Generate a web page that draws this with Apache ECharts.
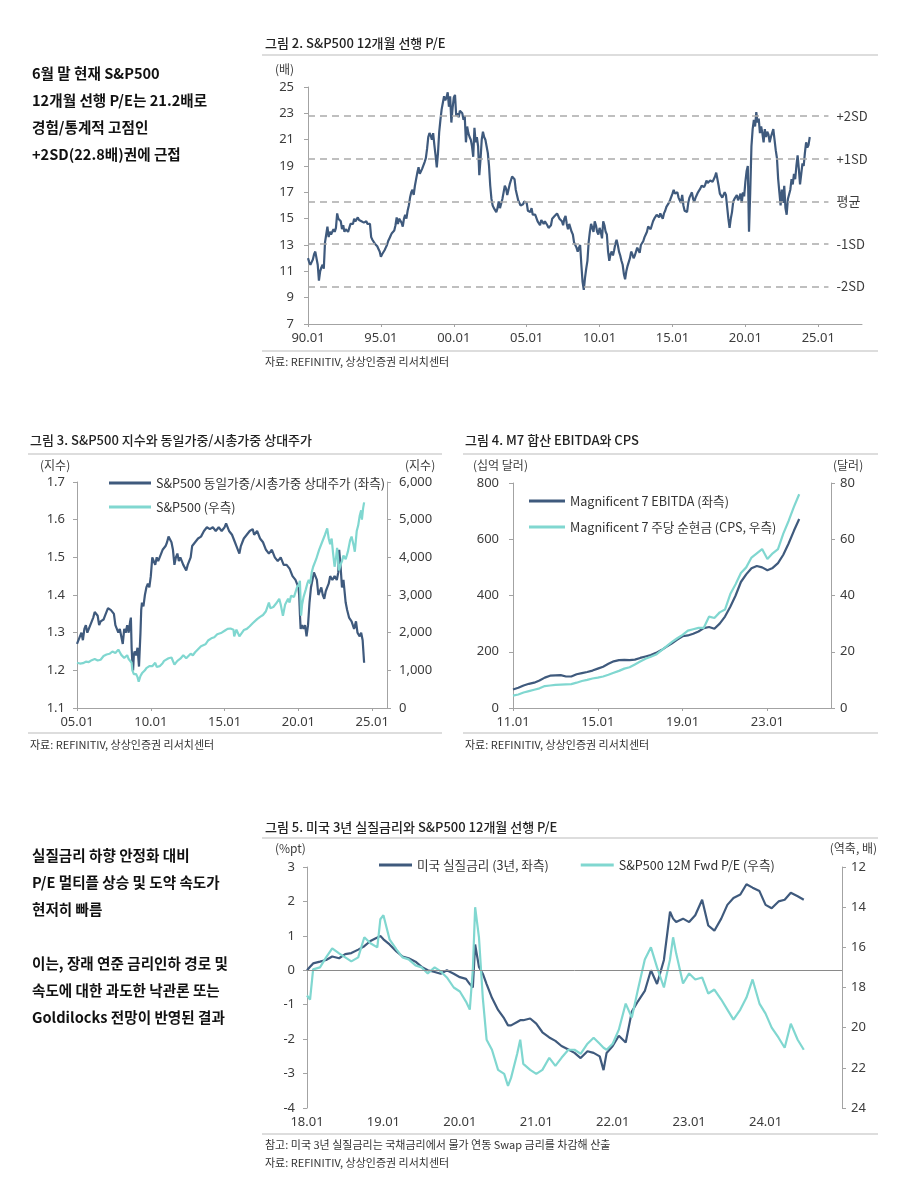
<!DOCTYPE html>
<html><head><meta charset="utf-8">
<script src="https://cdn.jsdelivr.net/npm/echarts@6/dist/echarts.min.js"></script>
<style>html,body{margin:0;padding:0;background:#fff}#c{width:900px;height:1199px}</style>
</head><body><div id="c"></div>
<script>
// ---------- Figure 2: S&P500 12M forward P/E, monthly from Jan 1990 ----------
const peStartYear = 1990;
const peMonthly = [
 12.0,11.7,11.5,11.7,11.9,12.3,12.5,12.4,11.5,10.3,11.0,11.3,
 11.5,11.2,13.2,13.8,14.4,13.6,14.0,13.8,14.0,14.2,14.0,14.3,
 15.4,15.0,14.9,14.8,14.2,14.5,14.0,14.2,14.3,14.0,14.3,14.6,
 14.5,14.6,15.0,14.8,14.7,15.1,14.9,14.9,14.8,14.7,14.7,14.8,
 14.8,14.6,14.7,14.6,13.6,13.4,13.3,13.1,13.0,12.9,12.7,12.5,
 12.1,12.3,12.4,12.6,12.8,13.0,13.3,13.5,13.7,13.9,14.0,14.1,
 14.5,15.1,14.6,15.0,15.0,14.7,14.4,15.0,15.3,15.0,15.6,16.0,
 16.6,17.0,17.2,16.8,17.5,18.0,18.5,18.9,18.4,18.6,18.8,18.9,
 19.3,19.6,20.3,21.2,21.5,21.3,21.0,21.5,20.6,19.8,18.9,20.0,
 21.6,22.5,23.3,23.8,24.3,24.0,24.2,24.6,23.5,24.3,22.3,23.4,
 24.2,24.4,22.8,23.0,22.7,23.2,23.3,23.0,22.5,22.8,20.8,22.0,
 21.5,21.2,21.0,20.5,19.7,21.9,20.8,21.2,20.5,18.3,19.5,21.0,
 21.6,21.2,21.0,20.5,20.0,19.0,17.5,16.5,16.0,15.8,15.7,15.5,
 15.8,16.3,15.8,15.9,16.5,17.0,17.5,17.3,16.8,17.2,17.6,17.7,
 18.2,18.1,18.0,17.2,16.8,16.4,16.2,16.0,15.9,16.1,16.3,16.4,
 16.2,15.6,15.6,15.5,15.8,15.3,15.2,15.3,15.2,14.8,14.7,14.5,
 14.9,14.8,14.6,14.8,14.9,14.5,14.3,14.4,14.5,15.0,15.1,15.2,
 15.3,15.4,15.2,15.0,14.9,14.8,14.5,15.0,15.2,14.6,14.2,14.6,
 14.5,14.0,13.8,13.2,13.0,12.8,12.5,12.8,13.0,11.5,10.2,9.6,
 10.5,11.2,11.8,13.2,14.0,14.6,14.3,14.0,14.8,14.5,14.0,13.8,
 14.3,14.0,13.5,14.8,14.5,14.0,13.8,12.5,11.8,12.3,12.5,12.2,
 12.6,13.1,13.4,13.0,12.5,12.2,11.8,11.5,10.8,10.4,11.0,11.4,
 11.7,12.0,12.5,12.3,12.0,12.2,12.3,12.8,12.6,12.4,13.0,13.1,
 13.3,13.6,13.8,14.0,14.4,14.3,14.2,14.5,14.8,15.0,15.1,15.3,
 15.2,15.1,15.4,15.3,15.0,15.4,15.6,15.9,16.0,16.2,16.4,16.5,
 16.9,17.2,16.9,17.0,17.0,16.6,16.4,16.2,16.8,16.0,15.6,15.5,
 15.5,16.2,16.6,16.8,17.0,16.5,16.3,16.6,16.8,17.0,16.9,17.3,
 17.5,17.6,17.4,17.6,17.9,17.7,17.6,17.9,18.0,17.8,18.0,18.2,
 18.5,18.6,17.5,16.9,16.8,16.6,16.8,17.0,16.8,15.9,15.0,14.3,
 15.0,15.5,16.3,16.5,16.6,16.8,16.4,16.6,16.9,16.2,17.0,16.7,
 17.8,18.6,19.0,14.0,17.0,20.5,21.8,22.5,22.0,23.1,22.3,22.6,
 21.5,22.0,21.5,20.8,21.8,21.2,21.6,21.4,20.8,21.2,21.5,21.8,
 21.0,20.2,19.6,18.0,17.0,16.0,17.2,16.2,17.5,15.8,15.3,16.5,
 16.5,17.2,18.0,17.6,18.4,18.0,19.0,19.8,18.8,17.6,18.4,19.2,
 19.0,20.0,20.8,20.4,20.6,21.2
];
const sdLevels = [22.8, 19.55, 16.3, 13.1, 9.85];
const sdLabels = ['+2SD', '+1SD', '평균', '-1SD', '-2SD'];
const fig2Ticks = [1990, 1995, 2000, 2005, 2010, 2015, 2020, 2025];

// ---------- Figure 3: equal/cap weight relative & S&P500 ----------
const ewDates = [
 2005.0,2005.1,2005.2,2005.3,2005.4,2005.5,2005.6,2005.7,2005.8,2005.9,
 2006.0,2006.1,2006.2,2006.3,2006.4,2006.5,2006.6,2006.7,2006.8,2006.9,
 2007.0,2007.1,2007.2,2007.3,2007.4,2007.5,2007.6,2007.7,2007.8,2007.9,
 2008.0,2008.1,2008.2,2008.3,2008.4,2008.5,2008.6,2008.65,2008.7,2008.75,2008.8,2008.85,2008.9,
 2009.0,2009.1,2009.2,2009.3,2009.35,2009.4,2009.5,2009.6,2009.7,2009.8,2009.9,
 2010.0,2010.1,2010.2,2010.3,2010.4,2010.5,2010.6,2010.7,2010.8,2010.9,
 2011.0,2011.1,2011.2,2011.3,2011.4,2011.5,2011.6,2011.7,2011.8,2011.9,
 2012.0,2012.1,2012.2,2012.3,2012.4,2012.5,2012.6,2012.7,2012.8,2012.9,
 2013.0,2013.2,2013.4,2013.6,2013.8,2014.0,2014.2,2014.4,2014.6,2014.8,
 2015.0,2015.1,2015.2,2015.3,2015.4,2015.5,2015.6,2015.7,2015.8,2015.9,
 2016.0,2016.1,2016.2,2016.3,2016.5,2016.7,2016.9,2017.0,2017.2,2017.4,2017.6,2017.8,
 2018.0,2018.2,2018.4,2018.6,2018.8,2019.0,2019.2,2019.4,2019.6,2019.8,
 2020.0,2020.05,2020.1,2020.15,2020.25,2020.35,2020.45,2020.55,2020.65,2020.75,2020.85,2020.95,
 2021.05,2021.15,2021.25,2021.35,2021.45,2021.55,2021.65,2021.75,2021.85,2021.95,
 2022.05,2022.15,2022.3,2022.45,2022.6,2022.7,2022.76,2022.85,2022.95,
 2023.05,2023.2,2023.3,2023.43,2023.6,2023.77,2023.9,2024.0,2024.15,2024.25,2024.35,2024.4,2024.45
];
const ewValues = [
 1.27,1.28,1.28,1.30,1.28,1.31,1.32,1.30,1.31,1.32,
 1.33,1.34,1.355,1.35,1.345,1.32,1.33,1.33,1.335,1.345,
 1.355,1.365,1.36,1.36,1.355,1.35,1.32,1.31,1.30,1.31,
 1.29,1.27,1.31,1.30,1.32,1.30,1.33,1.34,1.26,1.22,1.20,1.24,1.25,
 1.24,1.26,1.21,1.30,1.36,1.38,1.37,1.40,1.42,1.43,1.42,
 1.45,1.50,1.49,1.48,1.50,1.49,1.50,1.51,1.52,1.52,
 1.53,1.54,1.555,1.55,1.54,1.52,1.48,1.50,1.51,1.49,
 1.50,1.49,1.48,1.475,1.465,1.48,1.49,1.50,1.53,1.53,
 1.54,1.55,1.555,1.57,1.58,1.575,1.58,1.57,1.58,1.57,
 1.58,1.59,1.585,1.57,1.575,1.56,1.55,1.54,1.53,1.52,
 1.51,1.53,1.54,1.55,1.56,1.57,1.575,1.56,1.57,1.55,1.54,1.52,
 1.51,1.52,1.50,1.49,1.50,1.48,1.48,1.47,1.45,1.44,
 1.42,1.40,1.35,1.31,1.32,1.31,1.32,1.29,1.32,1.38,1.42,1.44,
 1.46,1.45,1.44,1.40,1.41,1.42,1.40,1.39,1.41,1.42,
 1.43,1.45,1.44,1.45,1.44,1.46,1.52,1.48,1.42,
 1.44,1.38,1.36,1.34,1.33,1.31,1.33,1.30,1.29,1.30,1.28,1.25,1.22
];
const spxDates = [
 2005.0,2005.2,2005.4,2005.6,2005.8,2006.0,2006.2,2006.4,2006.6,2006.8,
 2007.0,2007.2,2007.4,2007.5,2007.6,2007.8,2007.9,2008.0,2008.2,2008.4,2008.5,2008.6,2008.7,2008.75,2008.85,2008.9,
 2009.0,2009.1,2009.18,2009.3,2009.4,2009.5,2009.6,2009.7,2009.8,2009.9,
 2010.0,2010.1,2010.3,2010.4,2010.5,2010.6,2010.7,2010.8,2010.9,
 2011.0,2011.2,2011.4,2011.5,2011.6,2011.7,2011.8,2011.9,
 2012.0,2012.2,2012.3,2012.4,2012.5,2012.7,2012.85,
 2013.0,2013.2,2013.4,2013.5,2013.7,2013.9,2014.0,2014.1,2014.3,2014.5,2014.6,2014.8,
 2015.0,2015.2,2015.4,2015.6,2015.65,2015.8,2016.0,2016.1,2016.3,2016.5,2016.7,2016.9,
 2017.0,2017.2,2017.4,2017.6,2017.8,2018.0,2018.1,2018.3,2018.5,2018.7,2018.8,2018.95,
 2019.1,2019.3,2019.4,2019.5,2019.7,2019.9,2020.05,2020.1,2020.18,2020.25,2020.35,2020.5,2020.6,2020.7,2020.8,2020.9,
 2021.0,2021.2,2021.4,2021.6,2021.8,2021.95,2022.05,2022.15,2022.25,2022.35,2022.45,2022.55,2022.62,2022.75,2022.85,2022.95,
 2023.05,2023.2,2023.35,2023.5,2023.6,2023.75,2023.82,2023.95,2024.05,2024.15,2024.25,2024.3,2024.38,2024.45
];
const spxValues = [
 1200,1180,1190,1230,1220,1270,1300,1260,1280,1380,
 1420,1440,1500,1530,1460,1550,1480,1410,1330,1400,1300,1270,1200,1000,900,850,
 900,820,700,850,920,930,1000,1060,1090,1110,
 1130,1110,1200,1090,1050,1110,1140,1190,1250,
 1280,1320,1340,1300,1150,1130,1250,1240,
 1310,1400,1390,1320,1360,1440,1400,
 1480,1560,1640,1620,1690,1800,1790,1850,1880,1960,1930,2000,
 2050,2100,2110,2080,1900,2080,1900,1880,2070,2100,2170,2250,
 2270,2360,2420,2470,2570,2800,2650,2680,2780,2900,2750,2450,
 2750,2900,2800,2980,2950,3200,3300,3380,2450,2750,2950,3150,3300,3400,3300,3600,
 3750,3950,4200,4400,4600,4770,4500,4350,4500,4100,3750,4000,4250,3650,3800,3900,
 4050,3950,4150,4450,4550,4300,4150,4700,4850,5100,5250,5000,5300,5460
];
const fig3Ticks = [2005, 2010, 2015, 2020, 2025];

// ---------- Figure 4: M7 EBITDA & CPS, quarterly from 2011 Q1 ----------
const m7StartYear = 2011;
const m7Ebitda = [
 66,72,80,86, 90,98,108,115, 116,117,112,112, 120,124,128,133,
 140,147,157,166, 170,171,170,172, 178,183,188,196, 206,218,230,243,
 255,258,264,272, 284,288,282,300, 325,360,400,448, 475,497,505,500,
 490,498,515,545, 585,630,672
];
const m7Cps = [
 4.4,4.8,5.5,6.0, 6.5,7.0,7.8,8.0, 8.2,8.3,8.4,8.5, 9.0,9.6,10.0,10.5,
 10.8,11.2,11.8,12.5, 13.2,14.0,14.5,15.5, 16.5,17.5,18.2,19.0, 20.5,22.0,23.5,24.8,
 26.0,27.5,28.0,28.5, 28.5,32.5,32.0,34.0, 35.0,40.5,44.0,48.0, 50.0,53.5,55.0,56.5,
 53.0,55.0,56.5,62.0, 66.5,71.5,76.0
];
const fig4Ticks = [2011, 2015, 2019, 2023];

// ---------- Figure 5: US 3Y real rate & S&P500 fwd P/E ----------
const f5Dates = [
 2018.00,2018.04,2018.08,2018.17,2018.25,2018.33,2018.42,2018.50,2018.58,2018.67,2018.75,2018.83,2018.92,2018.96,
 2019.00,2019.08,2019.17,2019.25,2019.33,2019.42,2019.50,2019.58,2019.67,2019.75,2019.83,2019.92,
 2020.00,2020.08,2020.13,2020.17,2020.20,2020.25,2020.30,2020.35,2020.42,2020.50,2020.58,2020.63,2020.67,2020.75,2020.79,2020.83,2020.92,
 2021.00,2021.08,2021.17,2021.25,2021.33,2021.42,2021.50,2021.58,2021.67,2021.75,2021.83,2021.88,2021.92,
 2022.00,2022.08,2022.17,2022.25,2022.33,2022.42,2022.50,2022.58,2022.67,2022.75,2022.79,2022.83,2022.92,
 2023.00,2023.08,2023.17,2023.25,2023.33,2023.42,2023.50,2023.58,2023.67,2023.75,2023.83,2023.92,
 2024.00,2024.08,2024.17,2024.25,2024.33,2024.42,2024.50
];
const realRate = [
 0.0,0.1,0.2,0.25,0.3,0.4,0.35,0.47,0.5,0.6,0.7,0.85,0.95,1.0,
 0.9,0.75,0.55,0.4,0.35,0.25,0.1,0.0,-0.05,-0.1,0.0,-0.1,
 -0.2,-0.25,-0.4,-0.5,0.75,0.1,-0.1,-0.4,-0.8,-1.15,-1.4,-1.6,-1.6,-1.5,-1.45,-1.45,-1.4,
 -1.55,-1.8,-1.95,-2.05,-2.2,-2.3,-2.4,-2.55,-2.35,-2.4,-2.5,-2.9,-2.4,
 -2.2,-1.9,-2.1,-1.2,-0.9,-0.6,0.0,-0.4,0.3,1.7,1.5,1.4,1.5,
 1.4,1.6,2.05,1.3,1.15,1.5,1.9,2.1,2.2,2.5,2.4,2.3,
 1.9,1.8,2.0,2.05,2.25,2.15,2.05
];
const fwdPE = [
 18.4,18.6,17.1,17.0,16.5,16.05,16.3,16.5,16.7,16.5,15.5,15.8,16.0,14.6,
 14.4,15.6,16.1,16.5,16.6,16.9,17.0,17.3,17.0,17.2,17.5,18.0,
 18.2,18.7,19.1,17.1,14.0,15.5,18.5,20.6,21.1,22.1,22.3,22.9,22.5,21.3,20.6,21.8,22.1,
 22.3,22.1,21.5,21.9,21.5,21.1,21.1,21.3,20.8,20.5,20.8,21.0,21.1,
 20.8,20.1,18.8,19.5,18.1,16.6,16.0,17.0,18.0,16.6,15.5,16.3,17.8,
 17.3,17.6,17.5,18.3,18.1,18.6,19.1,19.6,19.1,18.5,17.6,18.8,
 19.3,20.0,20.5,21.0,19.8,20.6,21.1
];
const fig5Ticks = [2018, 2019, 2020, 2021, 2022, 2023, 2024];

// ---------- styling ----------
const DARK = '#3f5a7d', TEAL = '#80d7d0', AXIS = '#a3a3a3', LBL = '#3c3c3c';
const KFONT = '"Noto Sans CJK KR","Noto Sans",sans-serif';
const NFONT = '"Noto Sans","Noto Sans CJK KR",sans-serif';
const yearLabel = v => String(Math.round(v) % 100).padStart(2, '0') + '.01';

function xAxis(grid, min, max, ticks, extra) {
  return Object.assign({
    type: 'value', gridIndex: grid, min: min, max: max,
    axisLine: { show: true, onZero: false, lineStyle: { color: AXIS, width: 1 } },
    axisTick: { show: true, length: 3, customValues: ticks, lineStyle: { color: AXIS } },
    axisLabel: { customValues: ticks, formatter: yearLabel, color: LBL, fontSize: 13, fontFamily: NFONT, margin: 8 },
    splitLine: { show: false }
  }, extra || {});
}
function yAxis(grid, min, max, interval, pos, margin, fmt, extra) {
  return Object.assign({
    type: 'value', gridIndex: grid, min: min, max: max, interval: interval, position: pos,
    axisLine: { show: true, lineStyle: { color: AXIS, width: 1 } },
    axisTick: { show: true, length: 4, lineStyle: { color: AXIS } },
    axisLabel: { color: LBL, fontSize: 13, fontFamily: NFONT, margin: margin, formatter: fmt },
    splitLine: { show: false }
  }, extra || {});
}
function lineSeries(name, data, xi, yi, color, extra) {
  return Object.assign({
    type: 'line', name: name, data: data, xAxisIndex: xi, yAxisIndex: yi,
    showSymbol: false, symbol: 'none', smooth: false, animation: false,
    lineStyle: { color: color, width: 2.2 }, itemStyle: { color: color }
  }, extra || {});
}

const peData = peMonthly.map((v, i) => [peStartYear + i / 12, v]);
const ewData = ewDates.map((d, i) => [d, ewValues[i]]);
const spxData = spxDates.map((d, i) => [d, spxValues[i]]);
const ebitdaData = m7Ebitda.map((v, i) => [m7StartYear + i * 0.25, v]);
const cpsData = m7Cps.map((v, i) => [m7StartYear + i * 0.25, v]);
const rrData = f5Dates.map((d, i) => [d, realRate[i]]);
const f5PeData = f5Dates.map((d, i) => [d, fwdPE[i]]);

const N3A = 'S&P500 동일가중/시총가중 상대주가 (좌측)', N3B = 'S&P500 (우측)';
const N4A = 'Magnificent 7 EBITDA (좌측)', N4B = 'Magnificent 7 주당 순현금 (CPS, 우측)';
const N5A = '미국 실질금리 (3년, 좌측)', N5B = 'S&P500 12M Fwd P/E (우측)';

// ---------- graphic texts ----------
const G = [];
function txt(x, y, s, size, weight, color, align) {
  G.push({ type: 'text', x: x, y: y, silent: true,
    style: { text: s, font: (weight || 'normal') + ' ' + size + 'px ' + KFONT, fill: color || '#222',
      align: align || 'left', verticalAlign: 'middle', textAlign: align || 'left', textVerticalAlign: 'middle' } });
}
function hline(x1, x2, y) {
  G.push({ type: 'line', silent: true, shape: { x1: x1, y1: y, x2: x2, y2: y }, style: { stroke: '#d2d2d2', lineWidth: 1.5 } });
}
const note1 = ['6월 말 현재 S&P500', '12개월 선행 P/E는 21.2배로', '경험/통계적 고점인', '+2SD(22.8배)권에 근접'];
note1.forEach((s, i) => txt(32, 73 + i * 27, s, 14.6, 'bold', '#111'));
const note2 = ['실질금리 하향 안정화 대비', 'P/E 멀티플 상승 및 도약 속도가', '현저히 빠름', '', '이는, 장래 연준 금리인하 경로 및', '속도에 대한 과도한 낙관론 또는', 'Goldilocks 전망이 반영된 결과'];
note2.forEach((s, i) => { if (s) txt(32, 855 + i * 27, s, 14.6, 'bold', '#111'); });

const SRC = '자료: REFINITIV, 상상인증권 리서치센터';
// fig 2
txt(265, 43, '그림 2. S&P500 12개월 선행 P/E', 13, '500', '#222');
hline(262, 878, 55);
txt(275, 69, '(배)', 12, 'normal', LBL);
hline(262, 878, 351);
txt(265, 362, SRC, 11, 'normal', '#333');
// fig 3
txt(30, 440, '그림 3. S&P500 지수와 동일가중/시총가중 상대주가', 13, '500', '#222');
hline(28, 442, 454);
txt(40, 465, '(지수)', 12, 'normal', LBL);
txt(405, 465, '(지수)', 12, 'normal', LBL);
hline(28, 442, 733);
txt(30, 745, SRC, 11, 'normal', '#333');
// fig 4
txt(465, 440, '그림 4. M7 합산 EBITDA와 CPS', 13, '500', '#222');
hline(463, 878, 454);
txt(473, 465, '(십억 달러)', 12, 'normal', LBL);
txt(833, 465, '(달러)', 12, 'normal', LBL);
hline(463, 878, 733);
txt(465, 745, SRC, 11, 'normal', '#333');
// fig 5
txt(265, 827, '그림 5. 미국 3년 실질금리와 S&P500 12개월 선행 P/E', 13, '500', '#222');
hline(262, 878, 838);
txt(275, 848, '(%pt)', 12, 'normal', LBL);
txt(877, 848, '(역축, 배)', 12, 'normal', LBL, 'right');
hline(262, 878, 1134);
txt(265, 1145, '참고: 미국 3년 실질금리는 국채금리에서 물가 연동 Swap 금리를 차감해 산출', 11, 'normal', '#333');
txt(265, 1163, SRC, 11, 'normal', '#333');

const legendBase = { selectedMode: false, icon: 'rect', itemHeight: 3,
  textStyle: { fontSize: 12.6, fontFamily: KFONT, color: '#333', lineHeight: 16 } };

const option = {
  backgroundColor: '#fff',
  animation: false,
  grid: [
    { left: 308, top: 87, width: 554, height: 237, outerBoundsMode: 'none' },
    { left: 77, top: 482, width: 310, height: 226, outerBoundsMode: 'none' },
    { left: 513, top: 483, width: 318, height: 225, outerBoundsMode: 'none' },
    { left: 307, top: 867, width: 535, height: 241, outerBoundsMode: 'none' }
  ],
  xAxis: [
    xAxis(0, 1990, 2028, fig2Ticks),
    xAxis(1, 2005, 2026, fig3Ticks),
    xAxis(2, 2011, 2026, fig4Ticks),
    xAxis(3, 2018, 2025, fig5Ticks, { axisLine: { show: false }, axisTick: { show: false }, axisLabel: { customValues: fig5Ticks, formatter: yearLabel, color: LBL, fontSize: 13, fontFamily: NFONT, margin: 8 } })
  ],
  yAxis: [
    yAxis(0, 7, 25, 2, 'left', 14),
    yAxis(1, 1.1, 1.7, 0.1, 'left', 12, v => v.toFixed(1)),
    yAxis(1, 0, 6000, 1000, 'right', 12, v => v.toLocaleString('en-US')),
    yAxis(2, 0, 800, 200, 'left', 14),
    yAxis(2, 0, 80, 20, 'right', 9),
    yAxis(3, -4, 3, 1, 'left', 12),
    yAxis(3, 12, 24, 2, 'right', 9, null, { inverse: true })
  ],
  legend: [
    Object.assign({}, legendBase, { data: [N3A, N3B], orient: 'vertical', left: 104, top: 470, itemWidth: 42, itemGap: 8 }),
    Object.assign({}, legendBase, { data: [N4A, N4B], orient: 'vertical', left: 524, top: 488, itemWidth: 36, itemGap: 10 }),
    Object.assign({}, legendBase, { data: [N5A, N5B], orient: 'horizontal', left: 374, top: 852, itemWidth: 33, itemGap: 32 })
  ],
  series: [
    lineSeries('S&P500 12개월 선행 P/E', peData, 0, 0, DARK, {
      markLine: {
        silent: true, animation: false, symbol: ['none', 'none'],
        lineStyle: { type: [7, 5], color: '#ababab', width: 1.5 },
        label: { show: true, position: 'end', distance: 8, color: LBL, fontSize: 13, fontFamily: KFONT,
          formatter: p => sdLabels[p.dataIndex] },
        data: sdLevels.map((v, i) => [{ coord: [1990, v], name: sdLabels[i] }, { coord: [2025.7, v], name: sdLabels[i] }])
      }
    }),
    lineSeries(N3A, ewData, 1, 1, DARK),
    lineSeries(N3B, spxData, 1, 2, TEAL),
    lineSeries(N4A, ebitdaData, 2, 3, DARK),
    lineSeries(N4B, cpsData, 2, 4, TEAL),
    lineSeries(N5A, rrData, 3, 5, DARK, {
      markLine: { silent: true, animation: false, symbol: ['none', 'none'], label: { show: false },
        lineStyle: { type: 'solid', color: '#8a8a8a', width: 1 }, data: [{ yAxis: 0 }] }
    }),
    lineSeries(N5B, f5PeData, 3, 6, TEAL)
  ],
  graphic: { elements: G }
};

const chart = echarts.init(document.getElementById('c'), null, { renderer: 'canvas', width: 900, height: 1199 });
chart.setOption(option);
</script>
</body></html>
